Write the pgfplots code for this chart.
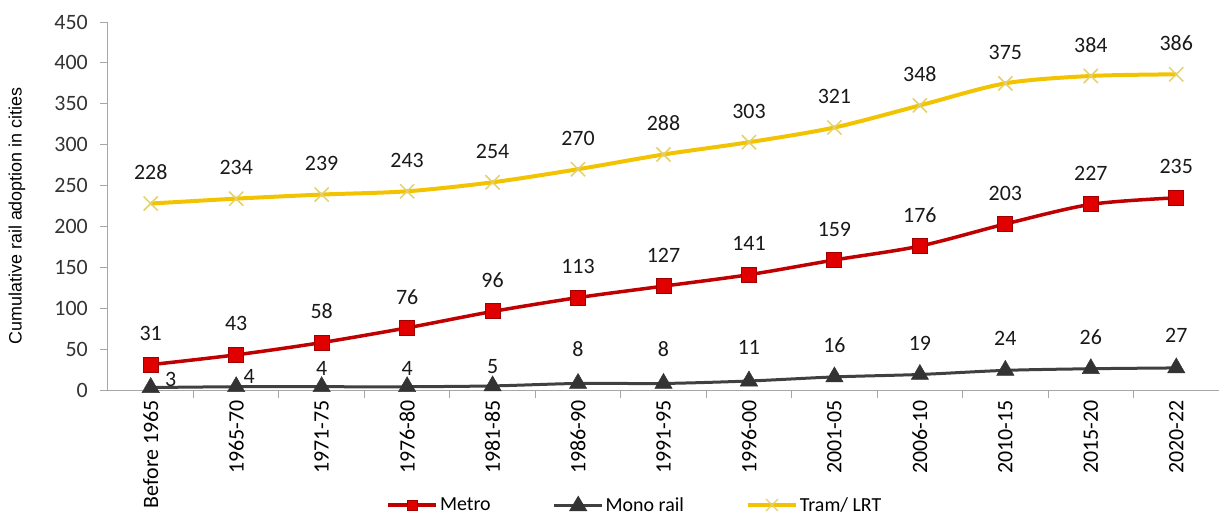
\documentclass[border=0pt]{standalone}
\usepackage{pgfplots}
\pgfplotsset{compat=1.18}
\usepackage{pgfplotstable}
\usepackage{fontspec}
\setmainfont{Carlito}
\newfontfamily\arialfont{Liberation Sans}

\definecolor{metro}{HTML}{C00000}
\definecolor{metrofill}{HTML}{E00000}
\definecolor{metroedge}{HTML}{A00000}
\definecolor{mono}{HTML}{404040}
\definecolor{monomark}{HTML}{333333}
\definecolor{tram}{HTML}{F2C300}
\definecolor{trammark}{HTML}{E3D06A}
\definecolor{axisgray}{HTML}{A6A6A6}

\pgfplotstableread{
x y
0 228
1 234
2 239
3 243
4 254
5 270
6 288
7 303
8 321
9 348
10 375
11 384
12 386
}\tram

\pgfplotstableread{
x y
0 31
1 43
2 58
3 76
4 96
5 113
6 127
7 141
8 159
9 176
10 203
11 227
12 235
}\metro

\pgfplotstableread{
x y dx dy
0 3 20 8
1 4 13 10
2 4 0 18
3 4 0 18
4 5 0 19
5 8 0 34
6 8 0 34
7 11 0 34
8 16 0 32
9 19 0 31
10 24 0 32
11 26 0 32
12 27 0 33
}\mono

\begin{document}
\begin{tikzpicture}
\useasboundingbox (-108bp,-130bp) rectangle (1111bp,390bp);
\begin{axis}[
  at={(0,0)}, anchor=south west,
  scale only axis, width=1111bp, height=368bp,
  xmin=-0.5, xmax=12.5, ymin=0, ymax=450,
  clip=false,
  axis x line*=bottom, axis y line*=left,
  axis line style={draw=axisgray, line width=1bp, -},
  tick align=outside,
  major tick length=0pt,
  minor tick length=8bp,
  every tick/.style={draw=axisgray, line width=1bp},
  xtick={0,...,12},
  xticklabels={Before 1965,1965-70,1971-75,1976-80,1981-85,1986-90,1991-95,1996-00,2001-05,2006-10,2010-15,2015-20,2020-22},
  minor xtick={0.5,1.5,...,11.5},
  ytick={0,50,...,450},
  minor ytick={0,50,...,450},
  /pgf/number format/assume math mode=true,
  x tick label style={rotate=90, anchor=east, inner sep=0pt, font=\fontsize{22}{24}\selectfont, text=black},
  y tick label style={anchor=east, inner sep=0pt, font=\fontsize{22}{24}\selectfont, text=black!80},
  xticklabel shift=10bp,
  yticklabel shift=20bp,
  ylabel={Cumulative rail adoption in cities},
  ylabel style={at={(axis description cs:-0.082,0.473)}, anchor=center, font=\arialfont\fontsize{18}{20}\selectfont},
  nodes near coords,
  every node near coord/.append style={font=\fontsize{22}{24}\selectfont, text=black!90, inner sep=0pt},
  legend columns=3,
  legend style={at={(axis description cs:0.4743,-0.3125)}, anchor=center, draw=none, fill=none,
    font=\fontsize{20}{22}\selectfont, /tikz/every even column/.append style={column sep=60bp},
    inner sep=0pt},
  legend cell align=left,
]
\addplot[metro, line width=3.5bp, smooth, mark=square*, mark size=7.5bp,
  mark options={fill=metrofill, draw=metroedge, line width=1bp},
  every node near coord/.append style={anchor=center, yshift=31bp},
  legend image code/.code={
    \draw[metro, line width=3.5bp] (0bp,0bp) -- (48bp,0bp);
    \filldraw[fill=metrofill, draw=metroedge, line width=1bp] (19bp,-5bp) rectangle (29bp,5bp);}]
  table[x=x, y=y] {\metro};
\addlegendentry{Metro}
\addplot[mono, line width=3bp, smooth, mark=triangle*, mark size=10bp,
  mark options={fill=monomark, draw=monomark, line width=0.5bp},
  visualization depends on={\thisrow{dx}\as\mydx},
  visualization depends on={\thisrow{dy}\as\mydy},
  every node near coord/.append style={anchor=center, xshift=\mydx bp, yshift=\mydy bp},
  legend image code/.code={
    \draw[mono, line width=3bp] (0bp,0bp) -- (48bp,0bp);
    \fill[monomark] (24bp,6.5bp) -- (17.5bp,-4.5bp) -- (30.5bp,-4.5bp) -- cycle;}]
  table[x=x, y=y] {\mono};
\addlegendentry{Mono rail}
\addplot[tram, line width=4bp, smooth, mark=x, mark size=10bp,
  mark options={draw=trammark, line width=1.5bp},
  every node near coord/.append style={anchor=center, yshift=31bp},
  legend image code/.code={
    \draw[tram, line width=4bp] (0bp,0bp) -- (48bp,0bp);
    \draw[trammark, line width=1.2bp] (18bp,-6bp) -- (30bp,6bp) (18bp,6bp) -- (30bp,-6bp);}]
  table[x=x, y=y] {\tram};
\addlegendentry{Tram/ LRT}
\end{axis}
\end{tikzpicture}
\end{document}
